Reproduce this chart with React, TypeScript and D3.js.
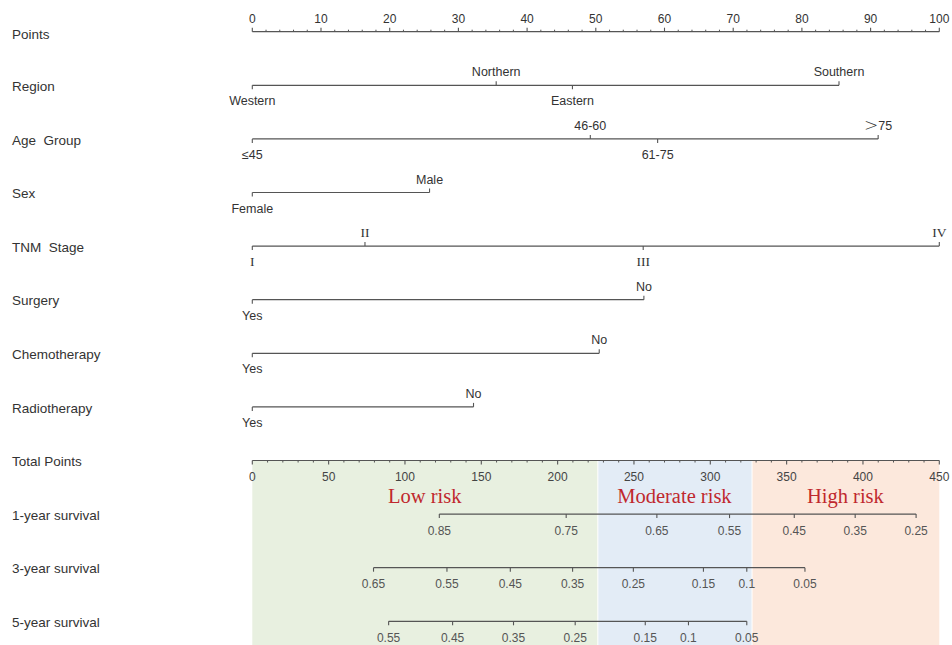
import React from "react";
import * as d3 from "d3";

// ---------- data ----------
const rowNames = [
  "Points",
  "Region",
  "Age  Group",
  "Sex",
  "TNM  Stage",
  "Surgery",
  "Chemotherapy",
  "Radiotherapy",
  "Total Points",
  "1-year survival",
  "3-year survival",
  "5-year survival",
];

const pointsMajorTicks = [0, 10, 20, 30, 40, 50, 60, 70, 80, 90, 100];
const totalMajorTicks = [0, 50, 100, 150, 200, 250, 300, 350, 400, 450];

const regionLevels = ["Western", "Northern", "Eastern", "Southern"];
const regionPoints = [0, 35.5, 46.6, 85.4];
const ageLevels = ["≤45", "46-60", "61-75", ">75"];
const agePoints = [0, 49.2, 59.0, 91.1];
const sexLevels = ["Female", "Male"];
const sexPoints = [0, 25.8];
const tnmLevels = ["I", "II", "III", "IV"];
const tnmPoints = [0, 16.4, 56.9, 100];
const surgeryLevels = ["Yes", "No"];
const surgeryPoints = [0, 57.0];
const chemoLevels = ["Yes", "No"];
const chemoPoints = [0, 50.5];
const radioLevels = ["Yes", "No"];
const radioPoints = [0, 32.2];

const surv1Labels = ["0.85", "0.75", "0.65", "0.55", "0.45", "0.35", "0.25"];
const surv1Points = [122.5, 205.6, 265, 312.6, 355, 394.9, 434.8];
const surv3Labels = ["0.65", "0.55", "0.45", "0.35", "0.25", "0.15", "0.1", "0.05"];
const surv3Points = [79.4, 127.5, 169, 209.8, 249.6, 295.5, 323.9, 362];
const surv5Labels = ["0.55", "0.45", "0.35", "0.25", "0.15", "0.1", "0.05"];
const surv5Points = [89.3, 131.2, 171.1, 211.5, 257.4, 285.7, 323.9];

const riskNames = ["Low risk", "Moderate risk", "High risk"];
const riskBounds = [0, 226, 327, 450];
const riskColors = ["#e8f0e0", "#e3ecf6", "#fce8dc"];

// ---------- component ----------
export default function App() {
  const W = 952;
  const H = 645;
  const x0 = 252.3;
  const x1 = 939.3;
  const xP = d3.scaleLinear().domain([0, 100]).range([x0, x1]);
  const xT = d3.scaleLinear().domain([0, 450]).range([x0, x1]);
  const yRow = d3.scalePoint<string>().domain(rowNames).range([31.7, 621.3]);

  const lineColor = "#555";
  const textColor = "#333";
  const sans = "Liberation Sans, Arial, sans-serif";
  const serif = "Liberation Serif, Times New Roman, serif";

  const variables = [
    { row: "Region", levels: regionLevels, pts: regionPoints, font: sans },
    { row: "Age  Group", levels: ageLevels, pts: agePoints, font: sans },
    { row: "Sex", levels: sexLevels, pts: sexPoints, font: sans },
    { row: "TNM  Stage", levels: tnmLevels, pts: tnmPoints, font: serif },
    { row: "Surgery", levels: surgeryLevels, pts: surgeryPoints, font: sans },
    { row: "Chemotherapy", levels: chemoLevels, pts: chemoPoints, font: sans },
    { row: "Radiotherapy", levels: radioLevels, pts: radioPoints, font: sans },
  ];

  const survs = [
    { row: "1-year survival", labels: surv1Labels, pts: surv1Points },
    { row: "3-year survival", labels: surv3Labels, pts: surv3Points },
    { row: "5-year survival", labels: surv5Labels, pts: surv5Points },
  ];

  const yTotal = yRow("Total Points")!;
  const yPts = yRow("Points")!;

  const pointsMinor = d3.range(0, 101, 2).filter((v) => v % 10 !== 0);
  const totalMinor = d3.range(0, 451, 10).filter((v) => v % 50 !== 0);

  const renderLevel = (label: string) => {
    if (label.startsWith(">")) {
      return (
        <>
          <tspan fontSize={17} fontFamily="DejaVu Sans, sans-serif" fontWeight={300} dy="1">
            {">"}
          </tspan>
          <tspan dy="-1">{label.slice(1)}</tspan>
        </>
      );
    }
    return label;
  };

  return (
    <svg
      width={W}
      height={H}
      style={{ position: "absolute", left: 0, top: 0, background: "#fff" }}
    >
      {/* risk bands */}
      {riskNames.map((name, i) => {
        const a = xT(riskBounds[i]);
        const b = xT(riskBounds[i + 1]);
        return (
          <g key={name}>
            <rect
              x={a + (i > 0 ? 1 : 0)}
              y={yTotal}
              width={b - a - (i > 0 ? 1 : 0)}
              height={H - yTotal}
              fill={riskColors[i]}
            />
            <text
              x={(a + b) / 2}
              y={503}
              textAnchor="middle"
              fontFamily={serif}
              fontSize={20.5}
              fill="#c0282e"
            >
              {name}
            </text>
          </g>
        );
      })}

      {/* row labels */}
      {rowNames.map((r) => (
        <text
          key={r}
          x={12}
          y={yRow(r)! + (r === "Points" ? 2.3 : 1)}
          dy="0.35em"
          fontFamily={sans}
          fontSize={13.5}
          fill={textColor}
          style={{ whiteSpace: "pre" }}
        >
          {r}
        </text>
      ))}

      {/* Points axis */}
      <g>
        <line x1={xP(0)} x2={xP(100)} y1={yPts} y2={yPts} stroke={lineColor} strokeWidth={1.2} />
        {pointsMajorTicks.map((t) => (
          <g key={t}>
            <line x1={xP(t)} x2={xP(t)} y1={yPts} y2={yPts - 4} stroke={lineColor} strokeWidth={1.1} />
            <text
              x={xP(t)}
              y={22.5}
              textAnchor="middle"
              fontFamily={sans}
              fontSize={12}
              fill={textColor}
            >
              {t}
            </text>
          </g>
        ))}
        {pointsMinor.map((t) => (
          <line key={t} x1={xP(t)} x2={xP(t)} y1={yPts} y2={yPts - 2} stroke={lineColor} strokeWidth={1} />
        ))}
      </g>

      {/* variable rows */}
      {variables.map((v) => {
        const y = yRow(v.row)!;
        const order = d3.range(v.levels.length).sort((a, b) => v.pts[a] - v.pts[b]);
        const maxP = d3.max(v.pts)!;
        return (
          <g key={v.row}>
            <line x1={xP(0)} x2={xP(maxP)} y1={y} y2={y} stroke={lineColor} strokeWidth={1.2} />
            {order.map((idx, k) => {
              const above = k % 2 === 1;
              const px = xP(v.pts[idx]);
              return (
                <g key={idx}>
                  <line
                    x1={px}
                    x2={px}
                    y1={y}
                    y2={above ? y - 4 : y + 4}
                    stroke={lineColor}
                    strokeWidth={1.1}
                  />
                  <text
                    x={px}
                    y={above ? y - 9 : y + 20}
                    textAnchor="middle"
                    fontFamily={v.font}
                    fontSize={v.font === serif ? 13.5 : 12.5}
                    fill={textColor}
                  >
                    {renderLevel(v.levels[idx])}
                  </text>
                </g>
              );
            })}
          </g>
        );
      })}

      {/* Total points axis */}
      <g>
        <line x1={xT(0)} x2={xT(450)} y1={yTotal} y2={yTotal} stroke={lineColor} strokeWidth={1.2} />
        {totalMajorTicks.map((t) => (
          <g key={t}>
            <line x1={xT(t)} x2={xT(t)} y1={yTotal} y2={yTotal + 4} stroke={lineColor} strokeWidth={1.1} />
            <text
              x={xT(t)}
              y={yTotal + 20}
              textAnchor="middle"
              fontFamily={sans}
              fontSize={12}
              fill="#444"
            >
              {t}
            </text>
          </g>
        ))}
        {totalMinor.map((t) => (
          <line key={t} x1={xT(t)} x2={xT(t)} y1={yTotal} y2={yTotal + 2} stroke={lineColor} strokeWidth={1} />
        ))}
      </g>

      {/* survival axes */}
      {survs.map((s) => {
        const y = yRow(s.row)!;
        const [lo, hi] = d3.extent(s.pts) as [number, number];
        return (
          <g key={s.row}>
            <line x1={xT(lo)} x2={xT(hi)} y1={y} y2={y} stroke={lineColor} strokeWidth={1.2} />
            {s.pts.map((p, i) => (
              <g key={i}>
                <line x1={xT(p)} x2={xT(p)} y1={y} y2={y + 4} stroke={lineColor} strokeWidth={1.1} />
                <text
                  x={xT(p)}
                  y={y + 20.5}
                  textAnchor="middle"
                  fontFamily={sans}
                  fontSize={12}
                  fill="#555"
                >
                  {s.labels[i]}
                </text>
              </g>
            ))}
          </g>
        );
      })}
    </svg>
  );
}
